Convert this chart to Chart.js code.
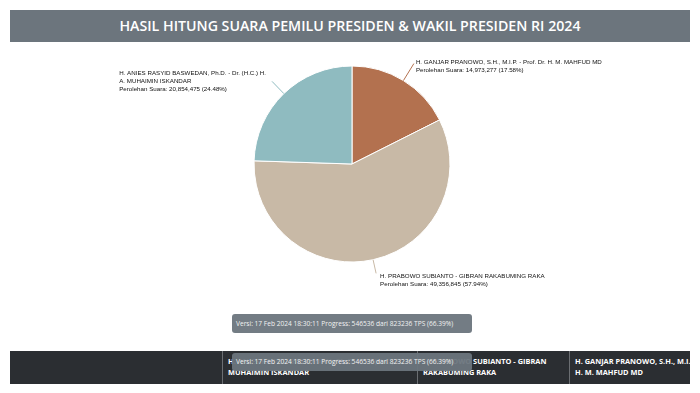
<!DOCTYPE html>
<html>
<head>
<meta charset="utf-8">
<script src="https://cdn.jsdelivr.net/npm/chart.js@4/dist/chart.umd.min.js"></script>
<style>
  html, body { margin: 0; padding: 0; background: #fff; }
  body { position: relative; width: 700px; height: 393px; overflow: hidden; font-family: 'Open Sans', sans-serif; }
  #title { position: absolute; left: 10px; top: 10px; width: 680px; height: 32px; background: #6c757d; color: #fff; font-weight: 600; font-size: 14.2px; line-height: 32px; text-align: center; white-space: nowrap; }
  #pie { position: absolute; left: 0; top: 42px; }
  .tip { position: absolute; left: 232px; width: 240px; height: 19px; border-radius: 3px; background: rgba(108, 117, 125, 0.95); color: #f2f2f2; font-size: 6.6px; line-height: 19px; padding-left: 4px; box-sizing: border-box; white-space: nowrap; z-index: 2; }
  #table { position: absolute; left: 10px; top: 351px; width: 680px; height: 33px; background: #2b2e32; overflow: hidden; }
  .col { position: absolute; top: 0; height: 33px; border-left: 1px solid #6b6e72; box-sizing: border-box; padding: 5px 0 0 5px; color: #fff; font-weight: 700; font-size: 7.4px; line-height: 11px; }
</style>
</head>
<body>
<div id="title"></div>
<canvas id="pie" width="704" height="260"></canvas>
<div class="tip" id="tip1" style="top:314px"></div>
<div id="table"></div>
<div class="tip" id="tip2" style="top:353px; height:18px; line-height:18px"></div>

<script>
const chartTitle = 'HASIL HITUNG SUARA PEMILU PRESIDEN & WAKIL PRESIDEN RI 2024';
const versionText = 'Versi: 17 Feb 2024 18:30:11 Progress: 546536 dari 823236 TPS (66.39%)';

// candidate pairs in ballot order (01, 02, 03)
const candidates = [
  'H. ANIES RASYID BASWEDAN, Ph.D. - Dr. (H.C.) H. A. MUHAIMIN ISKANDAR',
  'H. PRABOWO SUBIANTO - GIBRAN RAKABUMING RAKA',
  'H. GANJAR PRANOWO, S.H., M.I.P. - Prof. Dr. H. M. MAHFUD MD'
];
const votes = [20854475, 49356845, 14973277];
const colors = ['#8fbbc0', '#c8b9a6', '#b3714f'];

// the pie runs 03, 02, 01 clockwise from the top
const pieNames = candidates.slice().reverse();
const pieVotes = votes.slice().reverse();
const pieColors = colors.slice().reverse();

// leader line length and text offset per slice (pie order)
const labelCfg = [
  { len: 20, side: 'right', dx: 2, dy: -1.5, maxW: 260 },
  { len: 14, side: 'right', dx: 4, dy: 2.5, maxW: 260 },
  { len: 17, side: 'left', dx: -6, dy: -8.5, maxW: 151 }
];

document.getElementById('title').textContent = chartTitle;
document.getElementById('tip1').textContent = versionText;
document.getElementById('tip2').textContent = versionText;

// table header
const table = document.getElementById('table');
const cols = [
  { left: 212, width: 195 },
  { left: 407, width: 152 },
  { left: 559, width: 166 }
];
candidates.forEach((name, i) => {
  const d = document.createElement('div');
  d.className = 'col';
  d.style.left = cols[i].left + 'px';
  d.style.width = cols[i].width + 'px';
  d.textContent = name;
  table.appendChild(d);
});

function wrap(ctx, text, maxW) {
  const words = text.split(' ');
  const lines = [];
  let cur = '';
  words.forEach(w => {
    const test = cur ? cur + ' ' + w : w;
    if (cur && ctx.measureText(test).width > maxW) {
      lines.push(cur);
      cur = w;
    } else {
      cur = test;
    }
  });
  if (cur) lines.push(cur);
  return lines;
}

const sliceLabels = {
  id: 'sliceLabels',
  afterDatasetsDraw(chart) {
    const ctx = chart.ctx;
    const meta = chart.getDatasetMeta(0);
    const total = pieVotes.reduce((a, b) => a + b, 0);
    ctx.save();
    ctx.font = '6.2px "Liberation Sans", Arial, sans-serif';
    ctx.textBaseline = 'middle';
    meta.data.forEach((arc, i) => {
      const p = arc.getProps(['x', 'y', 'startAngle', 'endAngle', 'outerRadius'], true);
      const mid = (p.startAngle + p.endAngle) / 2;
      const cfg = labelCfg[i];
      const x0 = p.x + Math.cos(mid) * p.outerRadius;
      const y0 = p.y + Math.sin(mid) * p.outerRadius;
      const x1 = p.x + Math.cos(mid) * (p.outerRadius + cfg.len);
      const y1 = p.y + Math.sin(mid) * (p.outerRadius + cfg.len);

      ctx.strokeStyle = pieColors[i];
      ctx.lineWidth = 1;
      ctx.beginPath();
      ctx.moveTo(x0, y0);
      ctx.lineTo(x1, y1);
      ctx.stroke();

      const lines = wrap(ctx, pieNames[i], cfg.maxW);
      const pct = (pieVotes[i] / total * 100).toFixed(2);
      lines.push('Perolehan Suara: ' + pieVotes[i].toLocaleString('en-US') + ' (' + pct + '%)');
      const w = Math.max(...lines.map(l => ctx.measureText(l).width));
      const tx = cfg.side === 'left' ? x1 + cfg.dx - w : x1 + cfg.dx;
      ctx.fillStyle = '#111';
      lines.forEach((l, k) => ctx.fillText(l, tx, y1 + cfg.dy + k * 8));
    });
    ctx.restore();
  }
};

new Chart(document.getElementById('pie').getContext('2d'), {
  type: 'pie',
  data: {
    labels: pieNames,
    datasets: [{
      data: pieVotes,
      backgroundColor: pieColors,
      borderColor: '#ffffff',
      borderWidth: 1,
      radius: 98
    }]
  },
  options: {
    responsive: false,
    animation: false,
    events: [],
    layout: { padding: { bottom: 16 } },
    plugins: {
      legend: { display: false },
      tooltip: { enabled: false }
    }
  },
  plugins: [sliceLabels]
});
</script>
</body>
</html>
